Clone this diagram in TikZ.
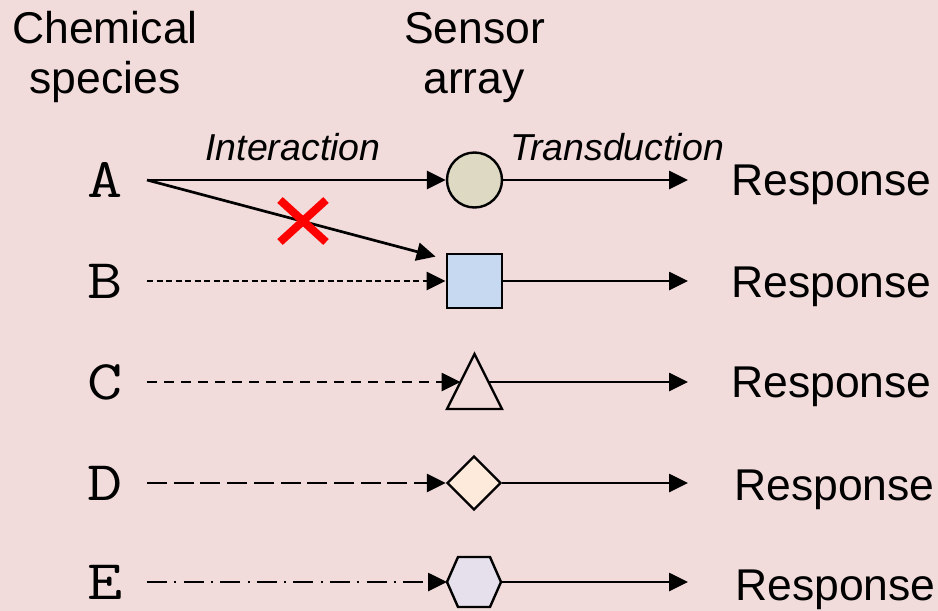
\documentclass[tikz,border=0pt]{standalone}
\usepackage{fontspec}
\setmainfont{Liberation Sans}
\newfontfamily\widemono{Latin Modern Mono}[FakeStretch=1.22]
\usetikzlibrary{arrows.meta,shapes.geometric}

\definecolor{bgpink}{HTML}{F2DCDB}
\definecolor{fillcircle}{HTML}{DDD9C3}
\definecolor{fillsquare}{HTML}{C6D9F0}
\definecolor{filldiamond}{HTML}{FDEADA}
\definecolor{fillhex}{HTML}{E5E0EC}

\tikzset{
  heading/.style={font=\fontsize{44.5}{50}\selectfont, inner sep=0pt, anchor=base},
  species/.style={font=\widemono\fontsize{56}{60}\selectfont, inner sep=0pt, anchor=base},
  proclabel/.style={font=\itshape\fontsize{37.5}{40}\selectfont, inner sep=0pt, anchor=base},
  response/.style={font=\fontsize{44.5}{50}\selectfont, inner sep=0pt, anchor=base west},
  sensorshape/.style={draw=black, line width=2.4pt, inner sep=0pt},
  flow/.style={line width=2.7pt, -{Triangle[length=19pt,width=18pt]}},
  pat1/.style={dash pattern=on 6pt off 3.5pt},
  pat2/.style={dash pattern=on 10pt off 7pt},
  pat3/.style={dash pattern=on 20pt off 6.7pt},
  pat4/.style={dash pattern=on 20pt off 7.3pt on 2pt off 7.3pt},
}

\begin{document}
\begin{tikzpicture}[x=1pt, y=-1pt]
  % canvas
  \fill[bgpink] (0,0) rectangle (938,611);
  \useasboundingbox (0,0) rectangle (938,611);

  % column headings
  \node[heading] (hchem1) at (105,43) {Chemical};
  \node[heading] (hchem2) at (105,93) {species};
  \node[heading] (hsens1) at (474.5,43) {Sensor};
  \node[heading] (hsens2) at (474,93) {array};

  % process labels
  \node[proclabel] (linter) at (293,160) {Interaction};
  \node[proclabel] (ltrans) at (617,160) {Transduction};

  % chemical species
  \node[species] (A) at (105,197) {A};
  \node[species] (B) at (105,298) {B};
  \node[species] (C) at (105,399) {C};
  \node[species] (D) at (105,500) {D};
  \node[species] (E) at (105,599) {E};

  % start points of the interaction lines
  \coordinate (a0) at (147,180);
  \coordinate (b0) at (147,281);
  \coordinate (c0) at (147,382);
  \coordinate (d0) at (147,483);
  \coordinate (e0) at (147,582);

  % sensor array elements
  \node[sensorshape, circle, fill=fillcircle, minimum size=55pt] (s1) at (474.5,180) {};
  \node[sensorshape, rectangle, fill=fillsquare, line width=2.8pt,
        minimum width=55pt, minimum height=54pt] (s2) at (474.5,281) {};
  \draw[sensorshape] (474.5,354) -- (502,409) -- (447,409) -- cycle;
  \coordinate (s3in) at (460.5,382);
  \coordinate (s3out) at (488.5,382);
  \node[sensorshape, diamond, fill=filldiamond, aspect=1,
        minimum width=54pt, minimum height=54pt] (s4) at (474,483) {};
  \draw[sensorshape, fill=fillhex]
    (447,582) -- (458,557) -- (490,557) -- (501,582) -- (490,607) -- (458,607) -- cycle;
  \coordinate (s5in) at (447,582);
  \coordinate (s5out) at (501,582);

  % interaction
  \draw[flow] (a0) -- (s1.west);
  \draw[flow] (a0) -- ([xshift=-10pt,yshift=-4pt]s2.north west);
  \draw[flow, pat1] (b0) -- (s2.west);
  \draw[flow, pat2] (c0) -- (s3in);
  \draw[flow, pat3] (d0) -- (s4.west);
  \draw[flow, pat4] (e0) -- (s5in);

  % blocked interaction
  \coordinate (xmark) at (303,221);
  \draw[red, line width=8pt] ([xshift=-23pt,yshift=21pt]xmark) -- ([xshift=23pt,yshift=-21pt]xmark);
  \draw[red, line width=8pt] ([xshift=-23pt,yshift=-21pt]xmark) -- ([xshift=23pt,yshift=21pt]xmark);

  % transduction
  \coordinate (r1) at (688,180);
  \coordinate (r2) at (688,281);
  \coordinate (r3) at (688,382);
  \coordinate (r4) at (688,483);
  \coordinate (r5) at (688,582);
  \draw[flow] (s1.east) -- (r1);
  \draw[flow] (s2.east) -- (r2);
  \draw[flow] (s3out) -- (r3);
  \draw[flow] (s4.east) -- (r4);
  \draw[flow] (s5out) -- (r5);

  % responses
  \node[response] (resp1) at (731,195) {Response};
  \node[response] (resp2) at (731,297) {Response};
  \node[response] (resp3) at (731,397) {Response};
  \node[response] (resp4) at (734,500) {Response};
  \node[response] (resp5) at (735,600) {Response};
\end{tikzpicture}
\end{document}
